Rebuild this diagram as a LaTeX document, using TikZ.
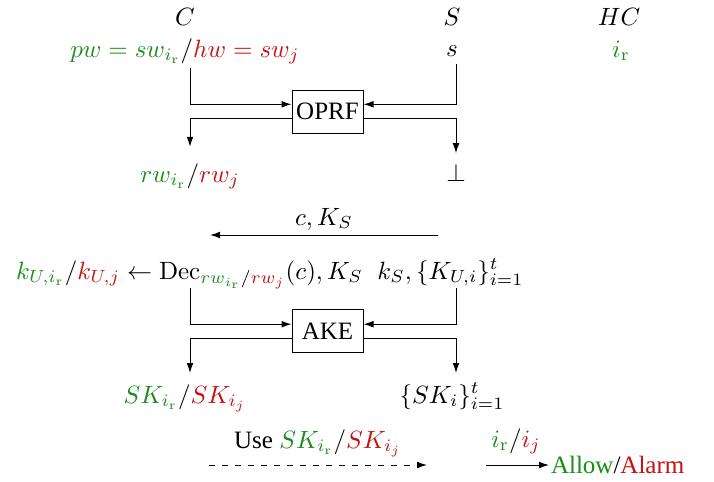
\documentclass[tikz,border=0pt]{standalone}
\usepackage[no-math]{fontspec}
\setmainfont{LiberationSerif}[Extension=.ttf,UprightFont=*-Regular,BoldFont=*-Bold,ItalicFont=*-Italic]
\usetikzlibrary{arrows.meta,calc}
\definecolor{g}{RGB}{25,140,25}
\definecolor{r}{RGB}{200,16,16}
\newcommand{\G}[1]{\textcolor{g}{#1}}
\newcommand{\R}[1]{\textcolor{r}{#1}}
\begin{document}
\begin{tikzpicture}[x=0.4pt,y=-0.4pt,
  lbl/.style={anchor=base,inner sep=0pt},
  boxnode/.style={draw,line width=0.4pt,minimum width=28.4pt,minimum height=17.2pt,inner sep=0pt},
  arr/.style={-{Latex[length=4pt,width=2.7pt]},line width=0.4pt},
  dasharr/.style={arr,dash pattern=on 2.3pt off 2.9pt}]
\useasboundingbox (0,0) rectangle (714,481);
% headers
\node[lbl] (C) at (185,25) {$C$};
\node[lbl] (S) at (452,25) {$S$};
\node[lbl] (HC) at (619,25) {$HC$};
% inputs
\node[lbl] (pw) at (185,57) {$\G{pw = sw_{i_\mathrm{r}}}/\R{hw = sw_j}$};
\node[lbl] (s) at (452,56) {$s$};
\node[lbl] (ir) at (621,57) {$\G{i_\mathrm{r}}$};
% OPRF
\node[boxnode] (oprf) at (327.5,111.5) {OPRF};
\coordinate (pwL) at (190,68);
\coordinate (sR) at (456,64);
\draw[arr] (pwL) |- ($(oprf.west)+(0,-7.2)$);
\draw[arr] (sR) |- ($(oprf.east)+(0,-7.2)$);
\node[lbl] (rw) at (190,182) {$\G{rw_{i_\mathrm{r}}}/\R{rw_j}$};
\node[lbl] (bot) at (456,181) {$\bot$};
\draw[arr] ($(oprf.west)+(0,6.8)$) -| ($(rw.north)+(0,-16)$);
\draw[arr] ($(oprf.east)+(0,6.8)$) -| ($(bot.north)+(0,-10)$);
% c, K_S message
\coordinate (m1) at (438,235);
\coordinate (m2) at (210,235);
\draw[arr] (m1) -- (m2);
\node[lbl] (cks) at (324,225) {$c, K_S$};
% Dec row
\node[lbl] (dec) at (189.5,279) {$\G{k_{U,i_\mathrm{r}}}/\R{k_{U,j}} \leftarrow \mathrm{Dec}_{\G{rw_{i_\mathrm{r}}}/\R{rw_j}}(c), K_S$};
\node[lbl] (ks) at (450.5,279) {$k_S, \{K_{U,i}\}_{i=1}^t$};
% AKE
\node[boxnode] (ake) at (327.5,331) {AKE};
\coordinate (dL) at (190,288);
\coordinate (kR) at (456,288);
\draw[arr] (dL) |- ($(ake.west)+(0,-6.8)$);
\draw[arr] (kR) |- ($(ake.east)+(0,-6.8)$);
\node[lbl] (skL) at (185,403) {$\G{SK_{i_\mathrm{r}}}/\R{SK_{i_j}}$};
\node[lbl] (skR) at (452,403) {$\{SK_i\}_{i=1}^t$};
\coordinate (eL) at (190,373);
\coordinate (eR) at (456,373);
\draw[arr] ($(ake.west)+(0,7.2)$) -| (eL);
\draw[arr] ($(ake.east)+(0,7.2)$) -| (eR);
% Use row
\coordinate (u1) at (209,465);
\coordinate (u2) at (427,465);
\draw[dasharr] (u1) -- (u2);
\node[lbl] (use) at (318,448) {Use $\G{SK_{i_\mathrm{r}}}/\R{SK_{i_j}}$};
\node[anchor=west,inner sep=0.6pt] (allow) at (549,465) {\G{Allow}/\R{Alarm}};
\coordinate (v1) at (486,465);
\draw[arr] (v1) -- (allow.west);
\node[lbl] (iri) at (516,447) {$\G{i_\mathrm{r}}/\R{i_j}$};
\end{tikzpicture}
\end{document}
